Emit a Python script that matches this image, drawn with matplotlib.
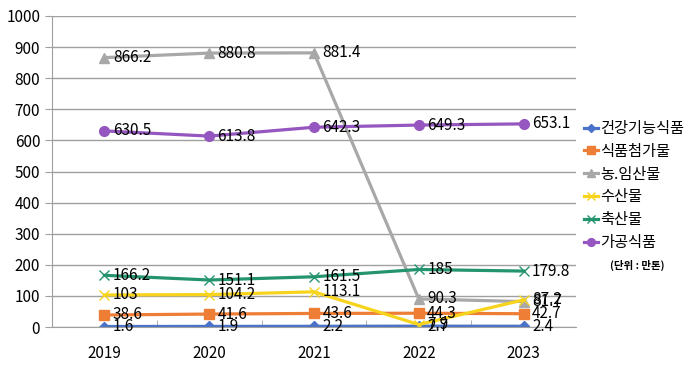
import matplotlib.pyplot as plt
import numpy as np

plt.rcParams['font.family'] = ['Noto Sans CJK KR', 'DejaVu Sans']

years = ['2019', '2020', '2021', '2022', '2023']
health = [1.6, 1.9, 2.2, 2.7, 2.4]
additive = [38.6, 41.6, 43.6, 44.3, 42.7]
agri = [866.2, 880.8, 881.4, 90.3, 81.7]
fishery = [103, 104.2, 113.1, 7.9, 87.2]
livestock = [166.2, 151.1, 161.5, 185, 179.8]
processed = [630.5, 613.8, 642.3, 649.3, 653.1]

# name, values, colour, marker, size, edge width
series = [
    ('건강기능식품', health, '#4A72C8', 'D', 5, 1),
    ('식품첨가물', additive, '#EE7D35', 's', 7, 1),
    ('농.임산물', agri, '#A8A8A8', '^', 7, 1),
    ('수산물', fishery, '#F7D31C', 'x', 7, 1),
    ('축산물', livestock, '#24936F', 'x', 7, 1),
    ('가공식품', processed, '#9556C0', 'o', 7, 1),
]

fig = plt.figure(figsize=(6.99, 3.68), dpi=100)
ax = fig.add_axes([52/699, 1 - 327/368, 524/699, 311/368])

x = np.arange(len(years))
for name, vals, col, mk, ms, mew in series:
    ax.plot(x, vals, color=col, lw=2.3, marker=mk, ms=ms, mew=mew, label=name)
    for xi, v in zip(x, vals):
        ax.text(xi + 0.08, v, f'{v:g}', fontsize=11, va='center', ha='left')

ax.set_xlim(-0.5, 4.5)
ax.set_ylim(0, 1000)
ax.set_yticks(range(0, 1001, 100))
ax.set_xticks(x)
ax.set_xticklabels(years)
ax.set_xticks(np.arange(0.5, 4.5, 1), minor=True)
ax.grid(axis='y', color='#A0A0A0', lw=1)
ax.set_axisbelow(True)
for s in ['top', 'right']:
    ax.spines[s].set_visible(False)
ax.spines['left'].set_color('#A0A0A0')
ax.spines['bottom'].set_color('#A0A0A0')
ax.tick_params(axis='y', color='#A0A0A0', length=5, labelsize=11)
ax.tick_params(axis='x', which='major', length=0, labelsize=11, pad=13)
ax.tick_params(axis='x', which='minor', color='#A0A0A0', length=5, direction='in')

leg = ax.legend(loc='upper left', bbox_to_anchor=(0.995, 0.7), frameon=False,
                fontsize=11, handlelength=0.9, handletextpad=0.15, labelspacing=0.38,
                borderaxespad=0.3, markerscale=0.8)
fig.text(610/699, 1 - 265/368, '(단위 : 만톤)', fontsize=7.5, fontweight='bold',
         va='center', ha='left')

fig.savefig('out.png', dpi=100)
